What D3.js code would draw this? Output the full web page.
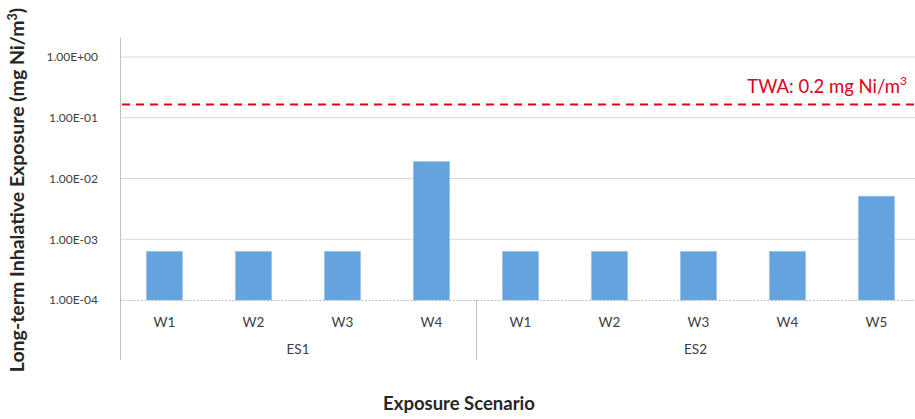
<!DOCTYPE html>
<html><head><meta charset="utf-8">
<script src="https://cdn.jsdelivr.net/npm/d3@7"></script>
<style>body{margin:0;background:#fff;}svg{display:block;font-family:Lato,"Open Sans",sans-serif;}</style>
</head><body><svg id="c" width="915" height="419"></svg>
<script>
const workplaces = ["W1","W2","W3","W4","W1","W2","W3","W4","W5"];
const scenarios = ["ES1","ES1","ES1","ES1","ES2","ES2","ES2","ES2","ES2"];
const groups = ["ES1","ES2"];
const exposure = [6.3e-4,6.3e-4,6.3e-4,1.9e-2,6.3e-4,6.3e-4,6.3e-4,6.3e-4,5.1e-3];
const yTicks = [1e0,1e-1,1e-2,1e-3,1e-4];
const yTickLabels = ["1.00E+00","1.00E-01","1.00E-02","1.00E-03","1.00E-04"];
const twaLineValue = 0.165;
const twaLabel = "TWA: 0.2 mg Ni/m";

const svg = d3.select("#c");
const L=120, R=921, T=57, B=300;
const keys = workplaces.map((w,i)=>scenarios[i]+"-"+w);
const x = d3.scaleBand().domain(keys).range([L,R]).paddingInner(0.595).paddingOuter(0.2975);
const y = d3.scaleLog().domain([1e-4,1]).range([B,T]);

// gridlines
svg.append("g").selectAll("line").data(yTicks.slice(0,4)).join("line")
  .attr("x1",L).attr("x2",915).attr("y1",d=>y(d)).attr("y2",d=>y(d))
  .attr("stroke","#d9d9d9").attr("stroke-width",1);

// y axis
const yAxis = d3.axisLeft(y).tickValues(yTicks).tickFormat((d,i)=>yTickLabels[i]).tickSize(0).tickPadding(22);
const ga = svg.append("g").attr("transform",`translate(${L},0)`).call(yAxis);
ga.select(".domain").remove();
ga.selectAll("text").attr("font-size",12).attr("fill","#404040").attr("font-family","Lato,sans-serif");
svg.append("line").attr("x1",L+0.5).attr("x2",L+0.5).attr("y1",38).attr("y2",360).attr("stroke","#bfbfbf");

// bars
svg.append("g").selectAll("rect").data(exposure).join("rect")
  .attr("x",(d,i)=>x(keys[i])).attr("width",x.bandwidth())
  .attr("y",d=>y(d)).attr("height",d=>B-y(d))
  .attr("fill","#64a3dd").attr("stroke","#8dbbe6").attr("stroke-width",0.8).attr("stroke-dasharray","1.5,1");

// x axis baseline
svg.append("line").attr("x1",L).attr("x2",915).attr("y1",B+0.5).attr("y2",B+0.5)
  .attr("stroke","#bfbfbf").attr("stroke-dasharray","2,1.5");

// W labels
svg.append("g").selectAll("text").data(workplaces).join("text")
  .attr("x",(d,i)=>x(keys[i])+x.bandwidth()/2).attr("y",327)
  .attr("text-anchor","middle").attr("font-size",13.5).attr("fill","#404040").text(d=>d);

// group labels & dividers
groups.forEach(g=>{
  const idx = scenarios.map((s,i)=>s===g?i:-1).filter(i=>i>=0);
  const x0 = x(keys[idx[0]]) - x.step()*x.paddingInner()/2;
  const x1 = x(keys[idx[idx.length-1]]) + x.bandwidth() + x.step()*x.paddingInner()/2;
  svg.append("text").attr("x",(x0+Math.min(x1,915))/2).attr("y",354)
    .attr("text-anchor","middle").attr("font-size",13.5).attr("fill","#404040").text(g);
  if(idx[0]>0){
    svg.append("line").attr("x1",Math.round(x0)+0.5).attr("x2",Math.round(x0)+0.5).attr("y1",B).attr("y2",360).attr("stroke","#bfbfbf");
  }
});

// TWA line
svg.append("line").attr("x1",L+2).attr("x2",915).attr("y1",y(twaLineValue)).attr("y2",y(twaLineValue))
  .attr("stroke","#e0001b").attr("stroke-width",2).attr("stroke-dasharray","8,6");
const tw = svg.append("text").attr("x",907).attr("y",93).attr("text-anchor","end")
  .attr("font-size",18.5).attr("fill","#e0001b");
tw.append("tspan").text(twaLabel);
tw.append("tspan").attr("dy",-8).attr("font-size",12).text("3");

// axis titles
const yl = svg.append("text").attr("transform","translate(24,190) rotate(-90)").attr("text-anchor","middle")
  .attr("font-size",19.5).attr("font-weight","bold").attr("fill","#262626");
yl.append("tspan").text("Long-term Inhalative Exposure (mg Ni/m");
yl.append("tspan").attr("dy",-7).attr("font-size",12.5).text("3");
yl.append("tspan").attr("dy",7).text(")");
svg.append("text").attr("x",459).attr("y",410).attr("text-anchor","middle")
  .attr("font-size",18.5).attr("font-weight","bold").attr("fill","#262626").text("Exposure Scenario");
</script></body></html>
